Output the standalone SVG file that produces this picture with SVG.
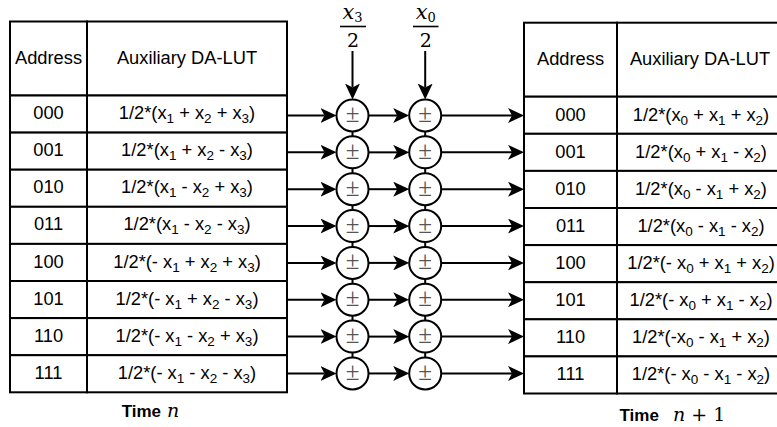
<svg xmlns="http://www.w3.org/2000/svg" width="777" height="427" viewBox="0 0 777 427">
  <style>
    .cell { fill: #ffffff; stroke: #000000; stroke-width: 2; }
    .t { font-family: "Liberation Sans", Arial, sans-serif; font-size: 18.3px; fill: #000000; text-anchor: middle; }
    .s { font-size: 13.5px; }
    .m { font-family: "DejaVu Serif", "Liberation Serif", serif; font-size: 19px; fill: #000000; text-anchor: middle; }
    .mi { font-style: italic; }
    .mx { font-size: 21px; }
    .ms { font-size: 13px; }
    .pm { font-family: "Liberation Serif", "Times New Roman", serif; font-size: 25px; fill: #555555; text-anchor: middle; }
    .op { fill: #ffffff; stroke: #000000; stroke-width: 2; }
    .wire { fill: none; stroke: #000000; stroke-width: 2; }
    .arr { fill: none; stroke: #000000; stroke-width: 2; marker-end: url(#head); }
    .bold { font-family: "Liberation Sans", Arial, sans-serif; font-size: 17px; font-weight: bold; fill: #000000; }
  </style>
  <defs>
    <marker id="head" markerUnits="userSpaceOnUse" viewBox="0 0 16 15" refX="4" refY="7.5" markerWidth="16" markerHeight="15" orient="auto">
      <path d="M0,0 L16,7.5 L0,15 L4,7.5 Z" fill="#000000"/>
    </marker>
  </defs>

  <rect width="777" height="427" fill="#ffffff"/>

  <!-- Time n table -->
  <g id="left-header">
    <rect class="cell" x="10" y="21.5" width="77" height="74"/>
    <rect class="cell" x="87" y="21.5" width="200" height="74"/>
    <text class="t" x="48.5" y="64">Address</text>
    <text class="t" x="187" y="64">Auxiliary DA-LUT</text>
  </g>
  <g id="left-000">
    <rect class="cell" x="10" y="95.5" width="77" height="37.1"/>
    <rect class="cell" x="87" y="95.5" width="200" height="37.1"/>
    <text class="t" x="48.5" y="119">000</text>
    <text class="t" x="187" y="119">1/2*(x<tspan class="s" dy="4">1</tspan><tspan dy="-4"> + x</tspan><tspan class="s" dy="4">2</tspan><tspan dy="-4"> + x</tspan><tspan class="s" dy="4">3</tspan><tspan dy="-4">)</tspan></text>
  </g>
  <g id="left-001">
    <rect class="cell" x="10" y="132.6" width="77" height="37.1"/>
    <rect class="cell" x="87" y="132.6" width="200" height="37.1"/>
    <text class="t" x="48.5" y="156.2">001</text>
    <text class="t" x="187" y="156.2">1/2*(x<tspan class="s" dy="4">1</tspan><tspan dy="-4"> + x</tspan><tspan class="s" dy="4">2</tspan><tspan dy="-4"> - x</tspan><tspan class="s" dy="4">3</tspan><tspan dy="-4">)</tspan></text>
  </g>
  <g id="left-010">
    <rect class="cell" x="10" y="169.7" width="77" height="37.1"/>
    <rect class="cell" x="87" y="169.7" width="200" height="37.1"/>
    <text class="t" x="48.5" y="193.3">010</text>
    <text class="t" x="187" y="193.3">1/2*(x<tspan class="s" dy="4">1</tspan><tspan dy="-4"> - x</tspan><tspan class="s" dy="4">2</tspan><tspan dy="-4"> + x</tspan><tspan class="s" dy="4">3</tspan><tspan dy="-4">)</tspan></text>
  </g>
  <g id="left-011">
    <rect class="cell" x="10" y="206.8" width="77" height="37.1"/>
    <rect class="cell" x="87" y="206.8" width="200" height="37.1"/>
    <text class="t" x="48.5" y="230.4">011</text>
    <text class="t" x="187" y="230.4">1/2*(x<tspan class="s" dy="4">1</tspan><tspan dy="-4"> - x</tspan><tspan class="s" dy="4">2</tspan><tspan dy="-4"> - x</tspan><tspan class="s" dy="4">3</tspan><tspan dy="-4">)</tspan></text>
  </g>
  <g id="left-100">
    <rect class="cell" x="10" y="243.9" width="77" height="37.1"/>
    <rect class="cell" x="87" y="243.9" width="200" height="37.1"/>
    <text class="t" x="48.5" y="267.5">100</text>
    <text class="t" x="187" y="267.5">1/2*(- x<tspan class="s" dy="4">1</tspan><tspan dy="-4"> + x</tspan><tspan class="s" dy="4">2</tspan><tspan dy="-4"> + x</tspan><tspan class="s" dy="4">3</tspan><tspan dy="-4">)</tspan></text>
  </g>
  <g id="left-101">
    <rect class="cell" x="10" y="281" width="77" height="37.1"/>
    <rect class="cell" x="87" y="281" width="200" height="37.1"/>
    <text class="t" x="48.5" y="304.6">101</text>
    <text class="t" x="187" y="304.6">1/2*(- x<tspan class="s" dy="4">1</tspan><tspan dy="-4"> + x</tspan><tspan class="s" dy="4">2</tspan><tspan dy="-4"> - x</tspan><tspan class="s" dy="4">3</tspan><tspan dy="-4">)</tspan></text>
  </g>
  <g id="left-110">
    <rect class="cell" x="10" y="318.1" width="77" height="37.1"/>
    <rect class="cell" x="87" y="318.1" width="200" height="37.1"/>
    <text class="t" x="48.5" y="341.7">110</text>
    <text class="t" x="187" y="341.7">1/2*(- x<tspan class="s" dy="4">1</tspan><tspan dy="-4"> - x</tspan><tspan class="s" dy="4">2</tspan><tspan dy="-4"> + x</tspan><tspan class="s" dy="4">3</tspan><tspan dy="-4">)</tspan></text>
  </g>
  <g id="left-111">
    <rect class="cell" x="10" y="355.2" width="77" height="37.1"/>
    <rect class="cell" x="87" y="355.2" width="200" height="37.1"/>
    <text class="t" x="48.5" y="378.8">111</text>
    <text class="t" x="187" y="378.8">1/2*(- x<tspan class="s" dy="4">1</tspan><tspan dy="-4"> - x</tspan><tspan class="s" dy="4">2</tspan><tspan dy="-4"> - x</tspan><tspan class="s" dy="4">3</tspan><tspan dy="-4">)</tspan></text>
  </g>

  <!-- Time n+1 table (runs past the right edge) -->
  <g id="right-header">
    <rect class="cell" x="524" y="22.7" width="93" height="74"/>
    <rect class="cell" x="617" y="22.7" width="165" height="74"/>
    <text class="t" x="570.5" y="65">Address</text>
    <text class="t" x="700" y="65">Auxiliary DA-LUT</text>
  </g>
  <g id="right-000">
    <rect class="cell" x="524" y="96.7" width="93" height="37.1"/>
    <rect class="cell" x="617" y="96.7" width="165" height="37.1"/>
    <text class="t" x="570.5" y="120.6">000</text>
    <text class="t" x="701" y="120.6">1/2*(x<tspan class="s" dy="4">0</tspan><tspan dy="-4"> + x</tspan><tspan class="s" dy="4">1</tspan><tspan dy="-4"> + x</tspan><tspan class="s" dy="4">2</tspan><tspan dy="-4">)</tspan></text>
  </g>
  <g id="right-001">
    <rect class="cell" x="524" y="133.8" width="93" height="37.1"/>
    <rect class="cell" x="617" y="133.8" width="165" height="37.1"/>
    <text class="t" x="570.5" y="157.7">001</text>
    <text class="t" x="701" y="157.7">1/2*(x<tspan class="s" dy="4">0</tspan><tspan dy="-4"> + x</tspan><tspan class="s" dy="4">1</tspan><tspan dy="-4"> - x</tspan><tspan class="s" dy="4">2</tspan><tspan dy="-4">)</tspan></text>
  </g>
  <g id="right-010">
    <rect class="cell" x="524" y="170.9" width="93" height="37.1"/>
    <rect class="cell" x="617" y="170.9" width="165" height="37.1"/>
    <text class="t" x="570.5" y="194.8">010</text>
    <text class="t" x="701" y="194.8">1/2*(x<tspan class="s" dy="4">0</tspan><tspan dy="-4"> - x</tspan><tspan class="s" dy="4">1</tspan><tspan dy="-4"> + x</tspan><tspan class="s" dy="4">2</tspan><tspan dy="-4">)</tspan></text>
  </g>
  <g id="right-011">
    <rect class="cell" x="524" y="208" width="93" height="37.1"/>
    <rect class="cell" x="617" y="208" width="165" height="37.1"/>
    <text class="t" x="570.5" y="231.9">011</text>
    <text class="t" x="701" y="231.9">1/2*(x<tspan class="s" dy="4">0</tspan><tspan dy="-4"> - x</tspan><tspan class="s" dy="4">1</tspan><tspan dy="-4"> - x</tspan><tspan class="s" dy="4">2</tspan><tspan dy="-4">)</tspan></text>
  </g>
  <g id="right-100">
    <rect class="cell" x="524" y="245.1" width="93" height="37.1"/>
    <rect class="cell" x="617" y="245.1" width="165" height="37.1"/>
    <text class="t" x="570.5" y="269">100</text>
    <text class="t" x="701" y="269">1/2*(- x<tspan class="s" dy="4">0</tspan><tspan dy="-4"> + x</tspan><tspan class="s" dy="4">1</tspan><tspan dy="-4"> + x</tspan><tspan class="s" dy="4">2</tspan><tspan dy="-4">)</tspan></text>
  </g>
  <g id="right-101">
    <rect class="cell" x="524" y="282.2" width="93" height="37.1"/>
    <rect class="cell" x="617" y="282.2" width="165" height="37.1"/>
    <text class="t" x="570.5" y="306.1">101</text>
    <text class="t" x="701" y="306.1">1/2*(- x<tspan class="s" dy="4">0</tspan><tspan dy="-4"> + x</tspan><tspan class="s" dy="4">1</tspan><tspan dy="-4"> - x</tspan><tspan class="s" dy="4">2</tspan><tspan dy="-4">)</tspan></text>
  </g>
  <g id="right-110">
    <rect class="cell" x="524" y="319.3" width="93" height="37.1"/>
    <rect class="cell" x="617" y="319.3" width="165" height="37.1"/>
    <text class="t" x="570.5" y="343.2">110</text>
    <text class="t" x="701" y="343.2">1/2*(-x<tspan class="s" dy="4">0</tspan><tspan dy="-4"> - x</tspan><tspan class="s" dy="4">1</tspan><tspan dy="-4"> + x</tspan><tspan class="s" dy="4">2</tspan><tspan dy="-4">)</tspan></text>
  </g>
  <g id="right-111">
    <rect class="cell" x="524" y="356.4" width="93" height="37.1"/>
    <rect class="cell" x="617" y="356.4" width="165" height="37.1"/>
    <text class="t" x="570.5" y="380.3">111</text>
    <text class="t" x="701" y="380.3">1/2*(- x<tspan class="s" dy="4">0</tspan><tspan dy="-4"> - x</tspan><tspan class="s" dy="4">1</tspan><tspan dy="-4"> - x</tspan><tspan class="s" dy="4">2</tspan><tspan dy="-4">)</tspan></text>
  </g>

  <!-- Connectors -->
  <g id="connectors">
    <!-- coefficient inputs -->
    <line class="arr" x1="352.5" y1="51" x2="352.5" y2="87.5"/>
    <line class="arr" x1="425.2" y1="51" x2="425.2" y2="87.5"/>
    <!-- links between stacked adders -->
    <path class="wire" d="M352.5,131.5V136.35 M352.5,168.35V173.2 M352.5,205.2V210.05 M352.5,242.05V246.9 M352.5,278.9V283.75 M352.5,315.75V320.6 M352.5,352.6V357.45"/>
    <path class="wire" d="M425.2,131.5V136.35 M425.2,168.35V173.2 M425.2,205.2V210.05 M425.2,242.05V246.9 M425.2,278.9V283.75 M425.2,315.75V320.6 M425.2,352.6V357.45"/>
    <!-- table -> first adder -->
    <line class="arr" x1="287" y1="115.5" x2="324.5" y2="115.5"/>
    <line class="arr" x1="287" y1="152.35" x2="324.5" y2="152.35"/>
    <line class="arr" x1="287" y1="189.2" x2="324.5" y2="189.2"/>
    <line class="arr" x1="287" y1="226.05" x2="324.5" y2="226.05"/>
    <line class="arr" x1="287" y1="262.9" x2="324.5" y2="262.9"/>
    <line class="arr" x1="287" y1="299.75" x2="324.5" y2="299.75"/>
    <line class="arr" x1="287" y1="336.6" x2="324.5" y2="336.6"/>
    <line class="arr" x1="287" y1="373.45" x2="324.5" y2="373.45"/>
    <!-- first adder -> second adder -->
    <line class="arr" x1="368.5" y1="115.5" x2="397.2" y2="115.5"/>
    <line class="arr" x1="368.5" y1="152.35" x2="397.2" y2="152.35"/>
    <line class="arr" x1="368.5" y1="189.2" x2="397.2" y2="189.2"/>
    <line class="arr" x1="368.5" y1="226.05" x2="397.2" y2="226.05"/>
    <line class="arr" x1="368.5" y1="262.9" x2="397.2" y2="262.9"/>
    <line class="arr" x1="368.5" y1="299.75" x2="397.2" y2="299.75"/>
    <line class="arr" x1="368.5" y1="336.6" x2="397.2" y2="336.6"/>
    <line class="arr" x1="368.5" y1="373.45" x2="397.2" y2="373.45"/>
    <!-- second adder -> next table -->
    <line class="arr" x1="441.2" y1="115.5" x2="512" y2="115.5"/>
    <line class="arr" x1="441.2" y1="152.35" x2="512" y2="152.35"/>
    <line class="arr" x1="441.2" y1="189.2" x2="512" y2="189.2"/>
    <line class="arr" x1="441.2" y1="226.05" x2="512" y2="226.05"/>
    <line class="arr" x1="441.2" y1="262.9" x2="512" y2="262.9"/>
    <line class="arr" x1="441.2" y1="299.75" x2="512" y2="299.75"/>
    <line class="arr" x1="441.2" y1="336.6" x2="512" y2="336.6"/>
    <line class="arr" x1="441.2" y1="373.45" x2="512" y2="373.45"/>
  </g>

  <!-- Adders, column 1 -->
  <g id="add-a0"><circle class="op" cx="352.5" cy="115.5" r="16"/><text class="pm" x="352.5" y="122">±</text></g>
  <g id="add-a1"><circle class="op" cx="352.5" cy="152.35" r="16"/><text class="pm" x="352.5" y="158.85">±</text></g>
  <g id="add-a2"><circle class="op" cx="352.5" cy="189.2" r="16"/><text class="pm" x="352.5" y="195.7">±</text></g>
  <g id="add-a3"><circle class="op" cx="352.5" cy="226.05" r="16"/><text class="pm" x="352.5" y="232.55">±</text></g>
  <g id="add-a4"><circle class="op" cx="352.5" cy="262.9" r="16"/><text class="pm" x="352.5" y="269.4">±</text></g>
  <g id="add-a5"><circle class="op" cx="352.5" cy="299.75" r="16"/><text class="pm" x="352.5" y="306.25">±</text></g>
  <g id="add-a6"><circle class="op" cx="352.5" cy="336.6" r="16"/><text class="pm" x="352.5" y="343.1">±</text></g>
  <g id="add-a7"><circle class="op" cx="352.5" cy="373.45" r="16"/><text class="pm" x="352.5" y="379.95">±</text></g>

  <!-- Adders, column 2 -->
  <g id="add-b0"><circle class="op" cx="425.2" cy="115.5" r="16"/><text class="pm" x="425.2" y="122">±</text></g>
  <g id="add-b1"><circle class="op" cx="425.2" cy="152.35" r="16"/><text class="pm" x="425.2" y="158.85">±</text></g>
  <g id="add-b2"><circle class="op" cx="425.2" cy="189.2" r="16"/><text class="pm" x="425.2" y="195.7">±</text></g>
  <g id="add-b3"><circle class="op" cx="425.2" cy="226.05" r="16"/><text class="pm" x="425.2" y="232.55">±</text></g>
  <g id="add-b4"><circle class="op" cx="425.2" cy="262.9" r="16"/><text class="pm" x="425.2" y="269.4">±</text></g>
  <g id="add-b5"><circle class="op" cx="425.2" cy="299.75" r="16"/><text class="pm" x="425.2" y="306.25">±</text></g>
  <g id="add-b6"><circle class="op" cx="425.2" cy="336.6" r="16"/><text class="pm" x="425.2" y="343.1">±</text></g>
  <g id="add-b7"><circle class="op" cx="425.2" cy="373.45" r="16"/><text class="pm" x="425.2" y="379.95">±</text></g>

  <!-- Coefficients x3/2 and x0/2 -->
  <g id="coef-x3">
    <text class="m" x="352.5" y="19"><tspan class="mi mx">x</tspan><tspan class="ms" dy="3">3</tspan></text>
    <line x1="340" y1="26.5" x2="366" y2="26.5" stroke="#000000" stroke-width="1.6"/>
    <text class="m" x="353" y="46.5">2</text>
  </g>
  <g id="coef-x0">
    <text class="m" x="425.7" y="19"><tspan class="mi mx">x</tspan><tspan class="ms" dy="3">0</tspan></text>
    <line x1="413" y1="26.5" x2="438.5" y2="26.5" stroke="#000000" stroke-width="1.6"/>
    <text class="m" x="425.7" y="46.5">2</text>
  </g>

  <!-- Time labels -->
  <g id="label-time-n">
    <text class="bold" x="121.7" y="417">Time</text>
    <text class="m mi" x="167" y="417" style="text-anchor:start">n</text>
  </g>
  <g id="label-time-n1">
    <text class="bold" x="619.5" y="421">Time</text>
    <text class="m" x="673" y="421" style="text-anchor:start"><tspan class="mi">n</tspan> + 1</text>
  </g>
</svg>
